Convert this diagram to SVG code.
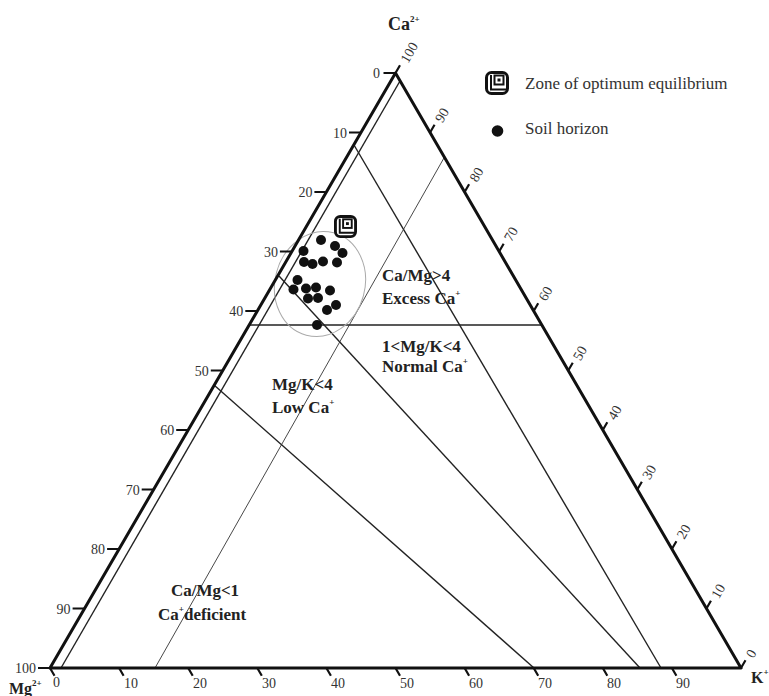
<svg xmlns="http://www.w3.org/2000/svg" xmlns:xlink="http://www.w3.org/1999/xlink" width="769" height="696" viewBox="0 0 769 696">
<style>
.edge{stroke:#111;stroke-width:3;fill:none;stroke-linejoin:round}
.tick{stroke:#111;stroke-width:2.2}
.ln{stroke:#222;stroke-width:1.4;fill:none}
.thin{stroke:#333;stroke-width:0.9;fill:none}
.tl{font-family:"Liberation Serif","Times New Roman",serif;font-size:14px;fill:#333}
.lab{font-family:"Liberation Serif","Times New Roman",serif;font-size:17px;font-weight:bold;fill:#222}
.leg{font-family:"Liberation Serif","Times New Roman",serif;font-size:17px;fill:#333}
.ax{font-family:"Liberation Serif","Times New Roman",serif;font-weight:bold;fill:#222}
.dot{fill:#111}
</style>
<defs>
<symbol id="zone" viewBox="0 0 24 24">
<rect x="1.5" y="1.5" width="21" height="21" rx="5" fill="#fff" stroke="#111" stroke-width="3"/>
<path d="M6 4 V18.5 H21" fill="none" stroke="#111" stroke-width="2"/>
<rect x="9.5" y="4.5" width="9" height="9" fill="none" stroke="#111" stroke-width="2"/>
<rect x="12.5" y="7.5" width="3" height="3" fill="#111"/>
</symbol>
</defs>
<rect width="769" height="696" fill="#fff"/>

<g id="connectors">
<line class="ln" x1="249" y1="325" x2="542" y2="325"/>
<line class="ln" x1="354" y1="145" x2="661" y2="668"/>
<line class="ln" x1="279" y1="276" x2="640" y2="668"/>
<line class="ln" x1="214" y1="385" x2="534" y2="668"/>
<line class="thin" x1="444.5" y1="157" x2="155" y2="668"/>
<line class="ln" x1="400" y1="81" x2="61" y2="668"/>
<ellipse cx="320" cy="284" rx="45" ry="53" transform="rotate(15 320 284)" fill="none" stroke="#aaa" stroke-width="1"/>
</g>

<g id="triangle">
<polygon class="edge" points="395.5,73 741,668 50,668"/>
</g>

<g id="left-axis">
<path class="tick" d="M383.5 73H395.5 M349 132.5H361 M314.4 192H326.4 M279.9 251.5H291.9 M245.3 311H257.3 M210.8 370.5H222.8 M176.2 430H188.2 M141.7 489.5H153.7 M107.1 549H119.1 M72.6 608.5H84.6 M38 668H50"/>
<g class="tl" text-anchor="end">
<text x="380" y="78">0</text>
<text x="347" y="137.5">10</text>
<text x="312.4" y="197">20</text>
<text x="277.9" y="256.5">30</text>
<text x="243.3" y="316">40</text>
<text x="208.8" y="375.5">50</text>
<text x="174.2" y="435">60</text>
<text x="139.7" y="494.5">70</text>
<text x="105.1" y="554">80</text>
<text x="70.6" y="613.5">90</text>
<text x="36" y="673">100</text>
</g>
</g>

<g id="bottom-axis">
<path class="tick" d="M50 668l4.5 7.8 M119.1 668l4.5 7.8 M188.2 668l4.5 7.8 M257.3 668l4.5 7.8 M326.4 668l4.5 7.8 M395.5 668l4.5 7.8 M464.6 668l4.5 7.8 M533.7 668l4.5 7.8 M602.8 668l4.5 7.8 M671.9 668l4.5 7.8"/>
<g class="tl">
<text x="53" y="687">0</text>
<text x="124" y="688">10</text>
<text x="193" y="688">20</text>
<text x="262" y="688">30</text>
<text x="331" y="688">40</text>
<text x="400" y="688">50</text>
<text x="469" y="688">60</text>
<text x="538" y="688">70</text>
<text x="607" y="688">80</text>
<text x="676" y="688">90</text>
</g>
</g>

<g id="right-axis">
<path class="tick" d="M741 668l4.5 -7.8 M706.45 608.5l4.5 -7.8 M671.9 549l4.5 -7.8 M637.35 489.5l4.5 -7.8 M602.8 430l4.5 -7.8 M568.25 370.5l4.5 -7.8 M533.7 311l4.5 -7.8 M499.15 251.5l4.5 -7.8 M464.6 192l4.5 -7.8 M430.05 132.5l4.5 -7.8 M395.5 73l4.5 -7.8"/>
<g class="tl" dominant-baseline="central">
<text transform="translate(749.5,656.7) rotate(-60)">0</text>
<text transform="translate(714.9,597.2) rotate(-60)">10</text>
<text transform="translate(680.4,537.7) rotate(-60)">20</text>
<text transform="translate(645.8,478.2) rotate(-60)">30</text>
<text transform="translate(611.3,418.7) rotate(-60)">40</text>
<text transform="translate(576.7,359.2) rotate(-60)">50</text>
<text transform="translate(542.2,299.7) rotate(-60)">60</text>
<text transform="translate(507.6,240.2) rotate(-60)">70</text>
<text transform="translate(473.1,180.7) rotate(-60)">80</text>
<text transform="translate(438.5,121.2) rotate(-60)">90</text>
<text transform="translate(404,61.7) rotate(-60)">100</text>
</g>
</g>

<g id="axis-titles">
<text class="ax" x="388" y="30" font-size="18">Ca<tspan dy="-8" font-size="9">2+</tspan></text>
<text class="ax" x="9" y="694" font-size="16">Mg<tspan dy="-8" font-size="9">2+</tspan></text>
<text class="ax" x="751" y="683" font-size="16">K<tspan dy="-8" font-size="9">+</tspan></text>
</g>

<g id="legend">
<use xlink:href="#zone" href="#zone" x="485" y="71" width="24" height="24"/>
<text class="leg" x="525" y="89">Zone of optimum equilibrium</text>
<circle class="dot" cx="497.5" cy="131" r="5.8"/>
<text class="leg" x="525" y="134">Soil horizon</text>
</g>

<g id="zone-marker">
<use xlink:href="#zone" href="#zone" x="334" y="215" width="23" height="23"/>
</g>

<g id="soil-points">
<circle class="dot" cx="321" cy="240" r="5"/>
<circle class="dot" cx="335" cy="246" r="5"/>
<circle class="dot" cx="342.5" cy="253" r="5"/>
<circle class="dot" cx="303.5" cy="251" r="5"/>
<circle class="dot" cx="304" cy="262" r="5"/>
<circle class="dot" cx="312.5" cy="264" r="5"/>
<circle class="dot" cx="323" cy="261.5" r="5"/>
<circle class="dot" cx="337" cy="262.5" r="5"/>
<circle class="dot" cx="297.5" cy="280" r="5"/>
<circle class="dot" cx="293.5" cy="289.5" r="5"/>
<circle class="dot" cx="306" cy="288.5" r="5"/>
<circle class="dot" cx="316" cy="287.5" r="5"/>
<circle class="dot" cx="330" cy="290.5" r="5"/>
<circle class="dot" cx="308" cy="298.5" r="5"/>
<circle class="dot" cx="318" cy="298" r="5"/>
<circle class="dot" cx="336" cy="305" r="5"/>
<circle class="dot" cx="327" cy="310" r="5"/>
<circle class="dot" cx="317" cy="325" r="5"/>
</g>

<g id="region-labels" class="lab">
<text x="382" y="281">Ca/Mg&gt;4</text>
<text x="382" y="304">Excess Ca<tspan dy="-8" font-size="9">+</tspan></text>
<text x="382" y="352">1&lt;Mg/K&lt;4</text>
<text x="382" y="372">Normal Ca<tspan dy="-8" font-size="9">+</tspan></text>
<text x="272" y="390">Mg/K&lt;4</text>
<text x="272" y="413">Low Ca<tspan dy="-8" font-size="9">+</tspan></text>
<text x="205" y="596" text-anchor="middle">Ca/Mg&lt;1</text>
<text x="158" y="620">Ca<tspan dy="-8" font-size="9">+</tspan><tspan dy="8">deficient</tspan></text>
</g>
</svg>
